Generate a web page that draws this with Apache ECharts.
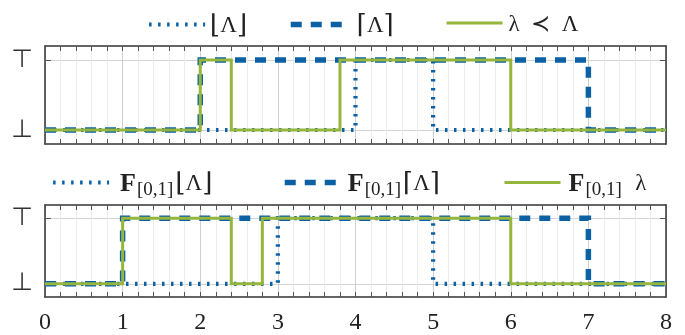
<!DOCTYPE html>
<html><head><meta charset="utf-8">
<script src="https://cdn.jsdelivr.net/npm/echarts@6/dist/echarts.min.js"></script>
<style>html,body{margin:0;padding:0;background:#fff}#c{width:685px;height:335px}</style>
</head><body><div id="c"></div>
<script>
// ---- data ----
const xTickLabels = ['0','1','2','3','4','5','6','7','8'];
const yLevels = [0, 1];
const yLevelLabels = ['⊥', '⊤'];
// top panel: breakpoints (x) and state held from that x on (y)
const floorX = [0, 4, 5, 8];        const floorY = [0, 1, 0, 0];
const ceilX  = [0, 2, 7, 8];        const ceilY  = [0, 1, 0, 0];
const lamX   = [0, 2, 2.4, 3.8, 6, 8]; const lamY = [0, 1, 0, 1, 0, 0];
// bottom panel
const fFloorX = [0, 3, 5, 8];       const fFloorY = [0, 1, 0, 0];
const fCeilX  = [0, 1, 7, 8];       const fCeilY  = [0, 1, 0, 0];
const fLamX   = [0, 1, 2.4, 2.8, 6, 8]; const fLamY = [0, 1, 0, 1, 0, 0];
const seriesNames = ['⌊Λ⌋', '⌈Λ⌉', 'λ ≺ Λ', 'F[0,1]⌊Λ⌋', 'F[0,1]⌈Λ⌉', 'F[0,1] λ'];

const BLUE = '#0b61a4', GREEN = '#95b53c';
const pts = (xs, ys) => xs.map((x, i) => [x, ys[i]]);

const legendText = {
  '⌊Λ⌋': '{br|⌊}Λ{br|⌋}', '⌈Λ⌉': '{br|⌈}Λ{br|⌉}', 'λ ≺ Λ': 'λ\u2002≺\u2002Λ',
  'F[0,1]⌊Λ⌋': '{f|F}{s|[0,1]}{br|⌊}Λ{br|⌋}',
  'F[0,1]⌈Λ⌉': '{f|F}{s|[0,1]}{br|⌈}Λ{br|⌉}',
  'F[0,1] λ': '{f|F}{s|[0,1]}\u2002λ'
};
const serif = 'Liberation Serif, DejaVu Serif, serif';
const rich = {
  f: {fontFamily: serif, fontWeight: 'bold', fontSize: 26, color: '#222'},
  s: {fontFamily: serif, fontSize: 19, color: '#222', padding: [12, 2, 0, 1]},
  br: {fontFamily: 'DejaVu Serif', fontSize: 26, color: '#222'}
};
const styles = [
  {color: BLUE, width: 4.2, type: [2.5, 6.5], z: 2},
  {color: BLUE, width: 5.5, type: [11, 9], z: 3},
  {color: GREEN, width: 3, type: 'solid', z: 4}
];
function mkLegend(k, left, top, padLeft) {
  const st = styles[k % 3];
  return {
    data: [seriesNames[k]], left: left, top: top, itemWidth: 56, itemHeight: 14,
    selectedMode: false, formatter: n => legendText[n],
    itemStyle: {color: 'rgba(0,0,0,0)', borderColor: 'rgba(0,0,0,0)', borderWidth: 0},
    lineStyle: {color: st.color, width: st.width, type: st.type, cap: 'butt'},
    textStyle: {fontFamily: serif, fontSize: 23, color: '#222', rich: rich, padding: [3, 0, 0, padLeft]}
  };
}
const grids = [{left: 45, right: 19, top: 46, height: 98}, {left: 45, right: 19, top: 205, height: 98}];

const xAxes = [], yAxes = [];
grids.forEach((g, i) => {
  const tick = {show: true, inside: true, length: 5, lineStyle: {color: '#555', width: 1}};
  const minor = {show: true, splitNumber: 5, length: 5, lineStyle: {color: '#555', width: 1}};
  const line = {show: true, onZero: false, lineStyle: {color: '#333', width: 1.5}};
  xAxes.push({gridIndex: i, type: 'value', min: 0, max: 8, interval: 1, position: 'bottom',
    axisLine: line, axisTick: tick, minorTick: minor,
    splitLine: {show: true, lineStyle: {color: '#cfcfcf', width: 1}},
    minorSplitLine: {show: true, lineStyle: {color: '#ececec', width: 1}},
    axisLabel: {show: i === 1, margin: 14, fontFamily: serif, fontSize: 24, color: '#222',
      formatter: v => xTickLabels[Math.round(v)]}});
  xAxes.push({gridIndex: i, type: 'value', min: 0, max: 8, interval: 1, position: 'top',
    axisLine: line, axisTick: tick, minorTick: minor, splitLine: {show: false}, axisLabel: {show: false}});
  const ytick = {show: true, inside: true, length: 6, customValues: yLevels, lineStyle: {color: '#555'}};
  yAxes.push({gridIndex: i, type: 'value', min: -0.2, max: 1.2, position: 'left',
    axisLine: line, axisTick: ytick,
    splitLine: {show: true, lineStyle: {color: '#d4d4d4', width: 1}},
    axisLabel: {show: true, customValues: yLevels, margin: 12, fontFamily: 'DejaVu Sans', fontSize: 25, color: '#333',
      formatter: v => yLevelLabels[yLevels.indexOf(Math.round(v))]}});
  yAxes.push({gridIndex: i, type: 'value', min: -0.2, max: 1.2, position: 'right',
    axisLine: line, axisTick: ytick, splitLine: {show: false}, axisLabel: {show: false}});
});

const dataSets = [pts(floorX, floorY), pts(ceilX, ceilY), pts(lamX, lamY),
                  pts(fFloorX, fFloorY), pts(fCeilX, fCeilY), pts(fLamX, fLamY)];
const series = dataSets.map((d, k) => {
  const st = styles[k % 3], panel = Math.floor(k / 3);
  return {name: seriesNames[k], type: 'line', step: 'end', data: d, symbol: 'none',
    xAxisIndex: panel * 2, yAxisIndex: panel * 2, z: st.z,
    itemStyle: {color: st.color},
    lineStyle: {color: st.color, width: st.width, type: st.type, cap: 'butt', join: 'miter'}};
});

const chart = echarts.init(document.getElementById('c'), null, {renderer: 'canvas'});
chart.setOption({
  animation: false, backgroundColor: '#fff',
  grid: grids, xAxis: xAxes, yAxis: yAxes, series: series,
  legend: [
    mkLegend(0, 142, 8, 0), mkLegend(1, 283, 8, 5), mkLegend(2, 440, 8, 1),
    mkLegend(3, 46, 166, 6), mkLegend(4, 277, 166, 2), mkLegend(5, 498, 166, 3)
  ]
});
</script></body></html>
